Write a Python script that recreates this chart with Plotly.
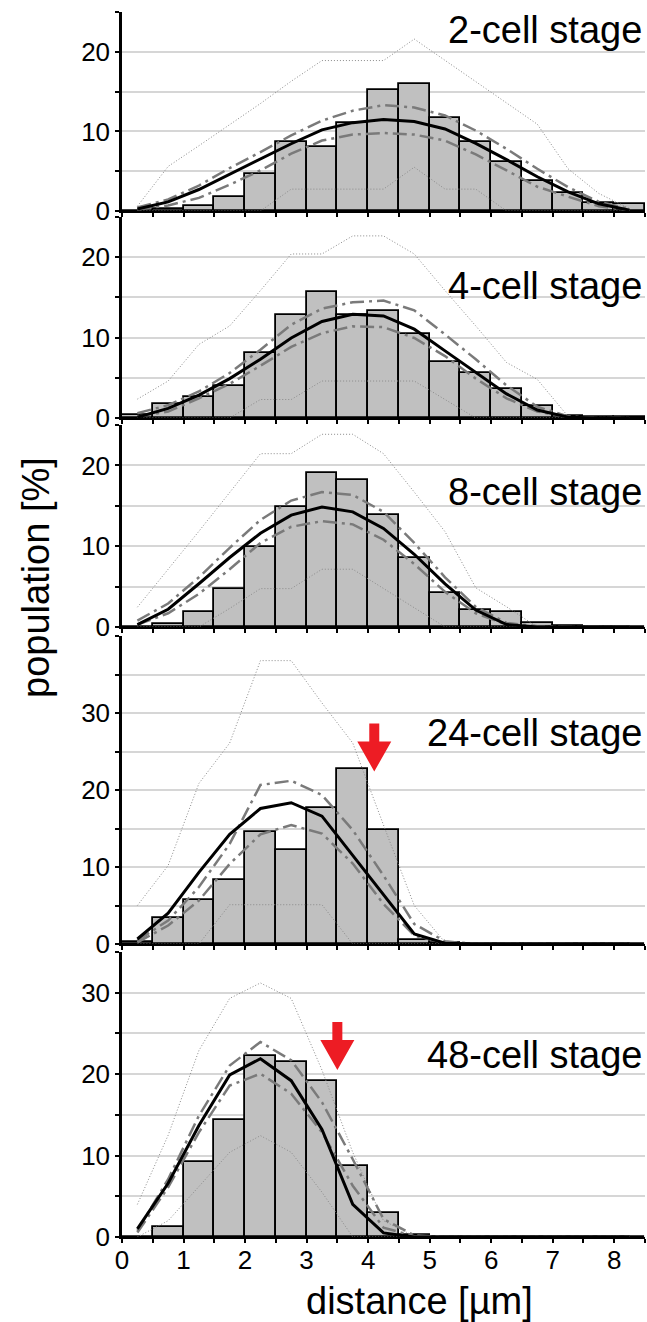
import plotly.graph_objects as go

# ---------------- data ----------------
bins = [0.25, 0.75, 1.25, 1.75, 2.25, 2.75, 3.25, 3.75, 4.25, 4.75,
        5.25, 5.75, 6.25, 6.75, 7.25, 7.75, 8.25]

stages = ["2-cell stage", "4-cell stage", "8-cell stage", "24-cell stage", "48-cell stage"]
y_max = [25, 25, 25, 40, 35]

bars2 = [0.0, 0.2, 0.6, 1.75, 4.65, 8.65, 8.0, 11.05, 15.25, 15.9, 11.7, 8.65, 6.1, 3.8, 2.2, 0.95, 0.85]
mean2 = [0.25, 1.15, 2.7, 4.6, 6.45, 8.45, 10.2, 11.1, 11.5, 11.25, 10.3, 8.5, 6.45, 4.3, 2.4, 0.9, 0.1]
up2 = [0.45, 1.45, 3.2, 5.4, 7.4, 9.5, 11.35, 12.6, 13.3, 13.0, 12.0, 10.1, 7.8, 5.3, 3.0, 1.15, 0.25]
lo2 = [0.2, 0.7, 1.65, 3.3, 5.1, 7.2, 8.85, 9.6, 9.8, 9.6, 8.85, 7.1, 5.1, 3.05, 1.8, 0.6, 0.1]
max2 = [0.6, 5.6, 8.2, 10.8, 13.5, 16.3, 18.9, 18.9, 18.9, 21.6, 18.95, 16.3, 13.6, 10.9, 5.3, 2.2, 0.3]
min2 = [0, 0, 0, 0, 0, 2.75, 2.75, 2.75, 2.75, 5.5, 2.75, 2.75, 0, 0, 0, 0, 0]

bars4 = [0.35, 1.7, 2.65, 3.95, 8.05, 12.75, 15.7, 12.8, 13.3, 10.45, 7.0, 5.6, 3.65, 1.5, 0.3, 0.1, 0.1]
mean4 = [0.1, 1.2, 2.85, 4.9, 7.3, 9.95, 12.0, 12.9, 12.7, 11.05, 8.35, 5.7, 3.0, 1.0, 0.1, 0.0, 0.0]
up4 = [0.6, 1.6, 3.3, 5.6, 8.5, 11.6, 13.6, 14.4, 14.6, 13.4, 10.4, 7.3, 4.05, 1.4, 0.2, 0.0, 0.0]
lo4 = [0.2, 0.8, 2.45, 4.25, 6.5, 8.85, 10.55, 11.4, 11.3, 9.95, 7.7, 4.9, 2.45, 0.8, 0.1, 0.0, 0.0]
max4 = [2.35, 4.6, 9.15, 11.45, 15.85, 20.4, 20.4, 22.65, 22.65, 20.4, 15.85, 11.45, 6.9, 4.8, 0.2, 0.0, 0.0]
min4 = [0, 0, 0, 0, 2.3, 2.3, 4.6, 4.6, 4.6, 4.6, 2.3, 0, 0, 0, 0, 0, 0]

bars8 = [0.0, 0.4, 1.9, 4.75, 9.9, 14.85, 19.0, 18.2, 13.9, 8.5, 4.2, 2.1, 1.8, 0.5, 0.1, 0.0, 0.0]
mean8 = [0.3, 2.2, 5.35, 8.6, 11.6, 13.85, 14.85, 14.25, 12.2, 9.0, 5.35, 2.1, 0.3, 0.0, 0.0, 0.0, 0.0]
up8 = [0.8, 2.9, 6.15, 9.8, 13.25, 15.65, 16.7, 16.35, 14.25, 10.4, 6.15, 2.5, 0.5, 0.1, 0.0, 0.0, 0.0]
lo8 = [0.3, 1.7, 4.1, 7.15, 10.4, 12.4, 13.1, 12.7, 10.8, 7.8, 4.35, 1.7, 0.3, 0.0, 0.0, 0.0, 0.0]
max8 = [2.45, 7.1, 11.85, 16.65, 21.45, 21.45, 23.85, 23.85, 21.45, 16.7, 11.8, 4.85, 2.5, 0.0, 0.0, 0.0, 0.0]
min8 = [0, 0, 0, 2.3, 4.75, 4.75, 7.15, 7.15, 4.75, 2.3, 0, 0, 0, 0, 0, 0, 0]

bars24 = [0.2, 3.4, 5.7, 8.25, 14.6, 12.25, 17.7, 22.75, 14.75, 0.5, 0.1, 0, 0, 0, 0, 0, 0]
mean24 = [0.65, 4.0, 9.3, 14.25, 17.6, 18.35, 16.6, 11.5, 6.3, 1.3, 0.1, 0, 0, 0, 0, 0, 0]
up24 = [0.45, 3.05, 7.4, 13.0, 20.65, 21.2, 19.35, 14.8, 8.9, 2.6, 0.35, 0, 0, 0, 0, 0, 0]
lo24 = [0.2, 2.4, 5.65, 10.4, 14.25, 15.45, 14.35, 10.45, 5.2, 1.1, 0.1, 0, 0, 0, 0, 0, 0]
max24 = [5.0, 10.2, 20.85, 26.1, 36.8, 36.8, 31.3, 26.1, 15.45, 5.0, 0.2, 0, 0, 0, 0, 0, 0]
min24 = [0, 0, 0, 5.1, 5.1, 5.1, 5.1, 0, 0, 0, 0, 0, 0, 0, 0, 0, 0]

bars48 = [0.0, 1.25, 9.25, 14.4, 22.2, 21.5, 19.1, 8.75, 2.9, 0.2, 0, 0, 0, 0, 0, 0, 0]
mean48 = [1.0, 6.6, 13.7, 19.9, 21.9, 19.2, 13.2, 4.0, 0.5, 0.0, 0, 0, 0, 0, 0, 0, 0]
up48 = [0.75, 7.1, 14.9, 21.05, 23.95, 21.7, 16.55, 9.55, 2.2, 0.2, 0, 0, 0, 0, 0, 0, 0]
lo48 = [0.55, 6.1, 12.85, 18.6, 20.05, 17.6, 12.85, 6.3, 1.15, 0.1, 0, 0, 0, 0, 0, 0, 0]
max48 = [4.0, 12.5, 22.9, 29.3, 31.2, 29.3, 20.5, 10.4, 2.0, 0.1, 0, 0, 0, 0, 0, 0, 0]
min48 = [0, 2.0, 6.2, 10.4, 12.45, 10.4, 5.5, 0, 0, 0, 0, 0, 0, 0, 0, 0, 0]

bars = [bars2, bars4, bars8, bars24, bars48]
means = [mean2, mean4, mean8, mean24, mean48]
ups = [up2, up4, up8, up24, up48]
los = [lo2, lo4, lo8, lo24, lo48]
maxs = [max2, max4, max8, max24, max48]
mins = [min2, min4, min8, min24, min48]

x_ticks = [0, 0.5, 1, 1.5, 2, 2.5, 3, 3.5, 4, 4.5, 5, 5.5, 6, 6.5, 7, 7.5, 8, 8.5]
x_labels = ["0", "", "1", "", "2", "", "3", "", "4", "", "5", "", "6", "", "7", "", "8", ""]

# red arrows: (panel index, x, tip y)
arrow_panel = [3, 4]
arrow_x = [4.1, 3.5]
arrow_tip = [22.4, 20.5]

# ---------------- layout geometry (pixels) ----------------
W, H = 647, 1322
ML, MR, MT, MB = 122, 2, 12, 85
plot_w = W - ML - MR
plot_h = H - MT - MB
# panel (top_px, bottom_px)
panel_px = [(12, 211), (217, 418), (425, 627), (636, 944), (952, 1237)]
title_cy = [30, 286, 492, 733, 1055]


def pf(ypx):
    return (H - MB - ypx) / plot_h


FONT = "Liberation Sans, Arial, sans-serif"
GRAY = "#7a7a7a"

fig = go.Figure()
layout = dict(
    width=W, height=H,
    margin=dict(l=ML, r=MR, t=MT, b=MB),
    paper_bgcolor="white", plot_bgcolor="white",
    showlegend=False, bargap=0,
    font=dict(family=FONT, color="black", size=26),
)
annotations = []
shapes = []

for i in range(5):
    n = "" if i == 0 else str(i + 1)
    xr, yr = "x" + n, "y" + n
    fig.add_trace(go.Bar(x=bins, y=bars[i], width=0.5, xaxis=xr, yaxis=yr,
                         marker=dict(color="#c0c0c0", line=dict(color="black", width=1.8))))
    for arr in (maxs[i], mins[i]):
        fig.add_trace(go.Scatter(x=bins, y=arr, mode="lines", xaxis=xr, yaxis=yr,
                                 line=dict(color="#8a8a8a", width=1, dash="1px,2px")))
    for arr in (ups[i], los[i]):
        fig.add_trace(go.Scatter(x=bins, y=arr, mode="lines", xaxis=xr, yaxis=yr,
                                 line=dict(color=GRAY, width=2.5, dash="14px,5px,3px,5px")))
    fig.add_trace(go.Scatter(x=bins, y=means[i], mode="lines", xaxis=xr, yaxis=yr,
                             line=dict(color="black", width=3)))

    top, bot = panel_px[i]
    ym = y_max[i]
    yv = list(range(0, ym + 1, 5))
    yt = [str(v) if v % 10 == 0 and v < ym else "" for v in yv]
    last = (i == 4)
    layout["xaxis" + n] = dict(
        domain=[0, 1], range=[0, 8.5], anchor=yr,
        showline=True, linecolor="black", linewidth=2,
        ticks="outside", ticklen=4, tickwidth=1.5, tickcolor="black",
        tickvals=x_ticks, ticktext=x_labels, showticklabels=last,
        ticklabelstandoff=-5,
        tickfont=dict(size=26), showgrid=False, zeroline=False,
    )
    layout["yaxis" + n] = dict(
        domain=[pf(bot), pf(top)], range=[0, ym], anchor=xr,
        showline=True, linecolor="black", linewidth=2.5,
        ticks="outside", ticklen=4, tickwidth=1.5, tickcolor="black",
        tickvals=yv, ticktext=yt, tickfont=dict(size=26),
        showgrid=True, gridcolor="#d6d6d6", gridwidth=1.5, zeroline=False,
    )
    annotations.append(dict(text=stages[i], xref="paper", yref="paper",
                            x=1, y=pf(title_cy[i]), xanchor="right", yanchor="middle",
                            xshift=-1, showarrow=False, font=dict(size=38, family=FONT)))

# arrows
px_per_x = plot_w / 8.5
for p, ax, tip in zip(arrow_panel, arrow_x, arrow_tip):
    n = str(p + 1)
    top, bot = panel_px[p]
    px_per_y = (bot - top) / y_max[p]
    hw = 17 / px_per_x
    sw = 5 / px_per_x
    hh = 30 / px_per_y
    sh = 18 / px_per_y
    path = (f"M {ax} {tip} L {ax - hw} {tip + hh} L {ax - sw} {tip + hh} "
            f"L {ax - sw} {tip + hh + sh} L {ax + sw} {tip + hh + sh} "
            f"L {ax + sw} {tip + hh} L {ax + hw} {tip + hh} Z")
    shapes.append(dict(type="path", path=path, xref="x" + n, yref="y" + n,
                       fillcolor="#ed1c24", line=dict(width=0)))

annotations.append(dict(text="distance [µm]", xref="paper", yref="paper",
                        x=(419 - ML) / plot_w, y=pf(1301), xanchor="center", yanchor="middle",
                        showarrow=False, font=dict(size=38, family=FONT)))
annotations.append(dict(text="population [%]", xref="paper", yref="paper",
                        x=(36 - ML) / plot_w, y=pf(578), xanchor="center", yanchor="middle",
                        textangle=-90, showarrow=False, font=dict(size=38, family=FONT)))

layout["annotations"] = annotations
layout["shapes"] = shapes
fig.update_layout(**layout)
fig.write_html(
    "out.html",
    config={"displayModeBar": False},
    post_script="document.body.style.margin='0';document.body.style.padding='0';"
                "document.documentElement.style.overflow='hidden';",
)
